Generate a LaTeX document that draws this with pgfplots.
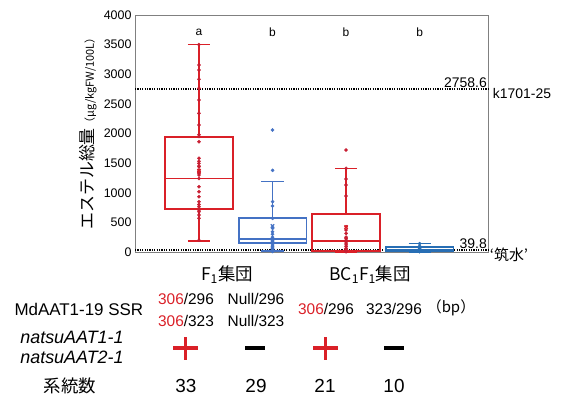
\documentclass[border=0pt]{standalone}
\usepackage{pgfplots}
\pgfplotsset{compat=1.18}
\usepgfplotslibrary{statistics}
\usepackage{fontspec}
\setmainfont{Liberation Sans}
\newfontfamily\cjk{Noto Sans CJK JP}
\definecolor{cred}{RGB}{218,32,40}
\definecolor{cdot}{RGB}{200,30,50}
\definecolor{cblue}{RGB}{68,114,196}
\definecolor{cblueb}{RGB}{40,110,180}
\newcommand{\fs}[1]{\fontsize{#1}{#1}\selectfont}
\pgfplotsset{
 mybox/.style={line width=1.7bp, boxplot/every box/.style={draw, line width=1.7bp},
  boxplot/every whisker/.style={line width=1.7bp},
  boxplot/every median/.style={line width=1.7bp}}
}
\begin{document}
\begin{tikzpicture}
\path[use as bounding box] (0bp,0bp) rectangle (562bp,-398bp);
\begin{axis}[
 at={(135bp,-252bp)}, anchor=south west,
 scale only axis, width=353bp, height=237bp,
 xmin=0.13, xmax=4.93, ymin=0, ymax=4000,
 xtick=\empty, ytick={0,500,...,4000},
 axis line style={black!50, line width=0.8pt},
 major tick length=0,
 yticklabel style={font=\fs{12.5}},
 /pgf/number format/assume math mode=true,
 /pgf/number format/set thousands separator={},
 clip=false,
 boxplot/draw direction=y,
]
% reference lines
\addplot[black, line width=2bp, dash pattern=on 1.2bp off 1.2bp] coordinates {(0.13,2758.6) (4.93,2758.6)};
\addplot[black, line width=2bp, dash pattern=on 1.2bp off 1.2bp] coordinates {(0.13,39.8) (4.93,39.8)};
% boxes
\addplot[cred, mybox, boxplot prepared={draw position=1, lower whisker=190, lower quartile=720, median=1240, upper quartile=1940, upper whisker=3500, box extend=0.92, whisker extend=0.3}] coordinates {};
\addplot[cblue, mybox, boxplot prepared={draw position=2, lower whisker=20, lower quartile=157, median=214, upper quartile=568, upper whisker=1190, box extend=0.92, whisker extend=0.3}] coordinates {};
\addplot[cred, mybox, boxplot prepared={draw position=3, lower whisker=0, lower quartile=15, median=186, upper quartile=641, upper whisker=1410, box extend=0.92, whisker extend=0.3}] coordinates {};
\addplot[cblueb, mybox, boxplot prepared={draw position=4, lower whisker=0, lower quartile=18, median=40, upper quartile=90, upper whisker=146, box extend=0.92, whisker extend=0.3}] coordinates {};
% medians (emphasised)
\addplot[cred, line width=1.7bp] coordinates {(0.54,1240)(1.46,1240)};
\addplot[cblue, line width=1.7bp] coordinates {(1.54,214)(2.46,214)};
\addplot[cred, line width=1.7bp] coordinates {(2.54,186)(3.46,186)};
\addplot[cblueb, line width=1.7bp] coordinates {(3.54,40)(4.46,40)};
% points
\addplot[only marks, mark=*, mark size=1.6bp, cdot] coordinates {
(1,3500)(1,3156)(1,3072)(1,2914)(1,2762)(1,2565)(1,2340)(1,2143)(1,1980)(1,1950)(1,1862)
(1,1581)(1,1530)(1,1496)(1,1450)(1,1440)(1,1384)(1,1356)(1,1328)(1,1300)(1,1240)(1,1103)
(1,1018)(1,934)(1,849)(1,800)(1,765)(1,709)(1,680)(1,624)(1,568)(1,1350)(1,200)};
\addplot[only marks, mark=*, mark size=1.6bp, cblue] coordinates {
(2,2059)(2,1378)(2,850)(2,776)(2,568)(2,399)(2,343)(2,300)(2,250)(2,230)(2,203)(2,190)
(2,180)(2,170)(2,160)(2,146)(2,120)(2,100)(2,90)(2,80)(2,60)(2,50)(2,40)(2,34)(2,30)
(2,25)(2,20)(2,15)(2,10)};
\addplot[only marks, mark=*, mark size=1.6bp, cdot] coordinates {
(3,1721)(3,1412)(3,1232)(3,1131)(3,945)(3,428)(3,371)(3,315)(3,250)(3,231)(3,200)(3,174)
(3,150)(3,120)(3,90)(3,60)(3,40)(3,30)(3,20)(3,10)(3,5)};
\addplot[only marks, mark=*, mark size=1.6bp, cblueb] coordinates {
(4,140)(4,100)(4,80)(4,60)(4,50)(4,40)(4,30)(4,20)(4,10)(4,5)};
% means
\addplot[only marks, mark=x, mark size=2.4bp, line width=1.2pt, cred] coordinates {(1,1372)(3,420)};
\addplot[only marks, mark=x, mark size=2.4bp, line width=1.2pt, cblue] coordinates {(2,439)};
\addplot[only marks, mark=x, mark size=2bp, line width=1.2pt, cblueb] coordinates {(4,55)};
% letters
\node[font=\fs{12}] at (axis cs:1,3713) {a};
\node[font=\fs{12}] at (axis cs:2,3713) {b};
\node[font=\fs{12}] at (axis cs:3,3713) {b};
\node[font=\fs{12}] at (axis cs:4,3713) {b};
% reference labels
\node[anchor=south east, font=\fs{14}, inner sep=1bp] at (axis cs:4.93,2758.6) {2758.6};
\node[anchor=west, font=\fs{14}, inner sep=1bp] at (axis cs:4.98,2680) {k1701-25};
\node[anchor=south east, font=\fs{14}, inner sep=1bp] at (axis cs:4.93,39.8) {39.8};
\node[anchor=west, font=\cjk\fs{15}, inner sep=1bp] at (axis cs:4.94,-40) {‘筑水’};
\end{axis}
% y label
\node[rotate=90] at (88bp,-131bp) {{\cjk\fs{17}エステル総量}{\cjk\fs{11}（μg/kgFW/100L）}};
% table below
\node[font=\cjk\fs{17.5}] at (227bp,-275bp) {F\textsubscript{1}集団};
\node[font=\cjk\fs{17.5}] at (370bp,-275bp) {BC\textsubscript{1}F\textsubscript{1}集団};
\node[font=\fs{17}, anchor=west] at (11bp,-309bp) {MdAAT1-19 SSR};
\node[font=\fs{15.5}] at (186bp,-299bp) {\textcolor{cred}{306}/296};
\node[font=\fs{15.5}] at (256bp,-299bp) {Null/296};
\node[font=\fs{15.5}] at (186bp,-321bp) {\textcolor{cred}{306}/323};
\node[font=\fs{15.5}] at (256bp,-321bp) {Null/323};
\node[font=\fs{15.5}] at (326bp,-309bp) {\textcolor{cred}{306}/296};
\node[font=\fs{15.5}] at (394bp,-309bp) {323/296};
\node[font=\cjk\fs{15}] at (451bp,-308bp) {（bp）};
\node[font=\itshape\fs{18}] at (72bp,-337bp) {natsuAAT1-1};
\node[font=\itshape\fs{18}] at (72bp,-357bp) {natsuAAT2-1};
\draw[cred, line width=3.6bp] (173bp,-348bp) -- (198bp,-348bp) (185.5bp,-337bp) -- (185.5bp,-360bp);
\draw[black, line width=3.6bp] (245bp,-348bp) -- (265bp,-348bp);
\draw[cred, line width=3.6bp] (313bp,-348bp) -- (338bp,-348bp) (325.5bp,-337bp) -- (325.5bp,-360bp);
\draw[black, line width=3.6bp] (384bp,-348bp) -- (404bp,-348bp);
\node[font=\cjk\fs{17.5}] at (70bp,-386bp) {系統数};
\node[font=\fs{19}] at (186bp,-386bp) {33};
\node[font=\fs{19}] at (256bp,-386bp) {29};
\node[font=\fs{19}] at (325bp,-386bp) {21};
\node[font=\fs{19}] at (394bp,-386bp) {10};
\end{tikzpicture}
\end{document}
